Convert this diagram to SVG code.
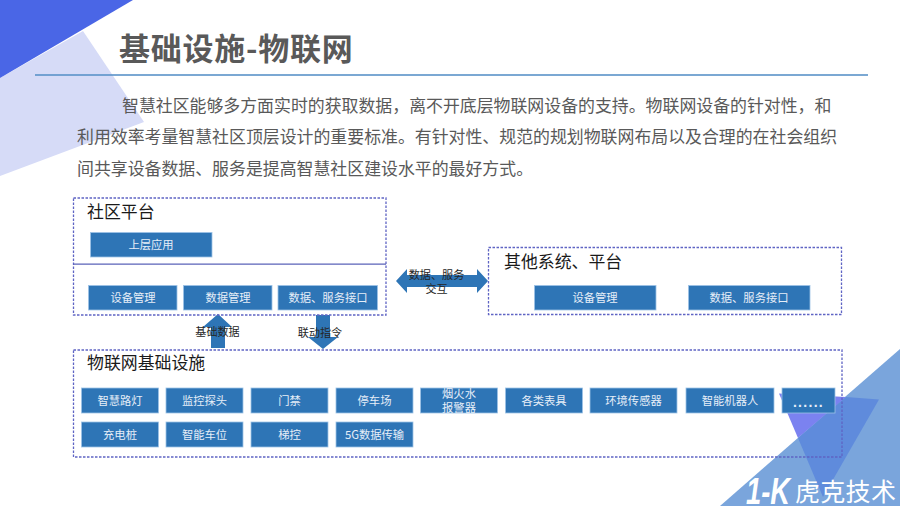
<svg xmlns="http://www.w3.org/2000/svg" width="900" height="506" viewBox="0 0 900 506">
<style>
text{font-family:"Noto Sans CJK SC","Liberation Sans",sans-serif}
.frame{fill:none;stroke:#5f64c4;stroke-width:1.3;stroke-dasharray:2.5 1.5}
.btn rect{fill:#2e75b6;stroke:#9dc3e6;stroke-width:.8}
.btn text{fill:#e6eef8;font-size:11.3px;text-anchor:middle}
.head{fill:#1a1a1a;font-size:16.9px}
.lab{fill:#262626;font-size:11.1px;text-anchor:middle}
.body{fill:#595959;font-size:16.9px}
.arrow{fill:#2e75b6}
</style>
<rect width="900" height="506" fill="#fff"/>
<g id="decor">
<polygon points="83,31 144,122 0,176 0,78" fill="#d6dbf7"/>
<polygon points="0,0 133,0 0,78" fill="#4a66e6"/>
<polygon points="900,349 900,506 720,506" fill="#7aa5dc"/>
<polygon points="779,393.500 846,397 798,438" fill="#7b82f0"/>
<polygon points="846,397 879,399.500 823,497 798,438" fill="#5f8bdc"/>
</g>
<text x="119" y="60" font-size="31" font-weight="700" fill="#595959" letter-spacing=".75">基础设施-物联网</text>
<rect x="35" y="74.200" width="833" height="1.600" fill="#5b93c9"/>
<text class="body" x="122" y="112">智慧社区能够多方面实时的获取数据，离不开底层物联网设备的支持。物联网设备的针对性，和</text>
<text class="body" x="77" y="143">利用效率考量智慧社区顶层设计的重要标准。有针对性、规范的规划物联网布局以及合理的在社会组织</text>
<text class="body" x="77" y="175">间共享设备数据、服务是提高智慧社区建设水平的最好方式。</text>
<g id="connectors">
<polygon class="arrow" points="218,314 232,327 225,327 225,348 211,348 211,327 203,327"/>
<polygon class="arrow" points="316,315 330,315 330,337 338,337 323,349 308,337 316,337"/>
<polygon class="arrow" points="396,281 407,269 407,275 477,275 477,269 488,281 477,293 477,287 407,287 407,293"/>
<text class="lab" x="217.500" y="336">基础数据</text>
<text class="lab" x="320" y="337">联动指令</text>
<text class="lab" x="436.500" y="279">数据、服务</text>
<text class="lab" x="436.500" y="293">交互</text>
</g>
<g id="community-platform">
<rect class="frame" x="73.500" y="198" width="312.500" height="117"/>
<line x1="73.500" y1="264.200" x2="386" y2="264.200" stroke="#5a62b8" stroke-width="1.200"/>
<text class="head" x="87" y="218">社区平台</text>
<g class="btn" id="app"><rect x="90.500" y="232.500" width="121.500" height="24.500"/><text x="151" y="249">上层应用</text></g>
<g class="btn" id="device-mgmt"><rect x="88.500" y="285.500" width="88.500" height="24.500"/><text x="133" y="302">设备管理</text></g>
<g class="btn" id="data-mgmt"><rect x="183.500" y="285.500" width="88.500" height="24.500"/><text x="228" y="302">数据管理</text></g>
<g class="btn" id="data-api"><rect x="278" y="285.500" width="99.500" height="24.500"/><text x="328" y="302">数据、服务接口</text></g>
</g>
<g id="other-systems">
<rect class="frame" x="488.500" y="247.500" width="353" height="67"/>
<text class="head" x="504" y="268">其他系统、平台</text>
<g class="btn" id="other-device"><rect x="534.500" y="285.500" width="121.500" height="24.500"/><text x="595" y="302">设备管理</text></g>
<g class="btn" id="other-api"><rect x="688.500" y="285.500" width="121.500" height="24.500"/><text x="749" y="302">数据、服务接口</text></g>
</g>
<g id="iot">
<rect class="frame" x="73.500" y="350" width="768.500" height="107"/>
<text class="head" x="87" y="369">物联网基础设施</text>
<g class="btn" id="n1"><rect x="81.500" y="388" width="77" height="25"/><text x="120" y="405">智慧路灯</text></g>
<g class="btn" id="n2"><rect x="166" y="388" width="77" height="25"/><text x="204.500" y="405">监控探头</text></g>
<g class="btn" id="n3"><rect x="251" y="388" width="77" height="25"/><text x="289.500" y="405">门禁</text></g>
<g class="btn" id="n4"><rect x="336" y="388" width="77" height="25"/><text x="374.500" y="405">停车场</text></g>
<g class="btn" id="n5"><rect x="420.500" y="388" width="77" height="25"/><text x="459" y="398">烟火水</text><text x="459" y="411.500">报警器</text></g>
<g class="btn" id="n6"><rect x="505.500" y="388" width="77" height="25"/><text x="544" y="405">各类表具</text></g>
<g class="btn" id="n7"><rect x="590" y="388" width="87" height="25"/><text x="633.500" y="405">环境传感器</text></g>
<g class="btn" id="n8"><rect x="686" y="388" width="88" height="25"/><text x="730" y="405">智能机器人</text></g>
<g class="btn" id="n9"><rect x="782" y="388" width="53" height="25"/><text x="808.500" y="407" style="font-family:'Liberation Sans',sans-serif;font-size:14px;font-weight:700;letter-spacing:1.300px">......</text></g>
<g class="btn" id="n10"><rect x="81.500" y="422" width="77" height="25"/><text x="120" y="439">充电桩</text></g>
<g class="btn" id="n11"><rect x="166" y="422" width="77" height="25"/><text x="204.500" y="439">智能车位</text></g>
<g class="btn" id="n12"><rect x="251" y="422" width="77" height="25"/><text x="289.500" y="439">梯控</text></g>
<g class="btn" id="n13"><rect x="336" y="422" width="77" height="25"/><text x="374.500" y="439">5G数据传输</text></g>
</g>
<g id="logo">
<text x="746" y="504" fill="#fff" textLength="44" lengthAdjust="spacingAndGlyphs" style="font-family:'Liberation Sans',sans-serif;font-size:36px;font-weight:700;font-style:italic">1-K</text>
<text x="795" y="501" font-size="25" fill="#fff" letter-spacing=".3">虎克技术</text>
</g>
</svg>
